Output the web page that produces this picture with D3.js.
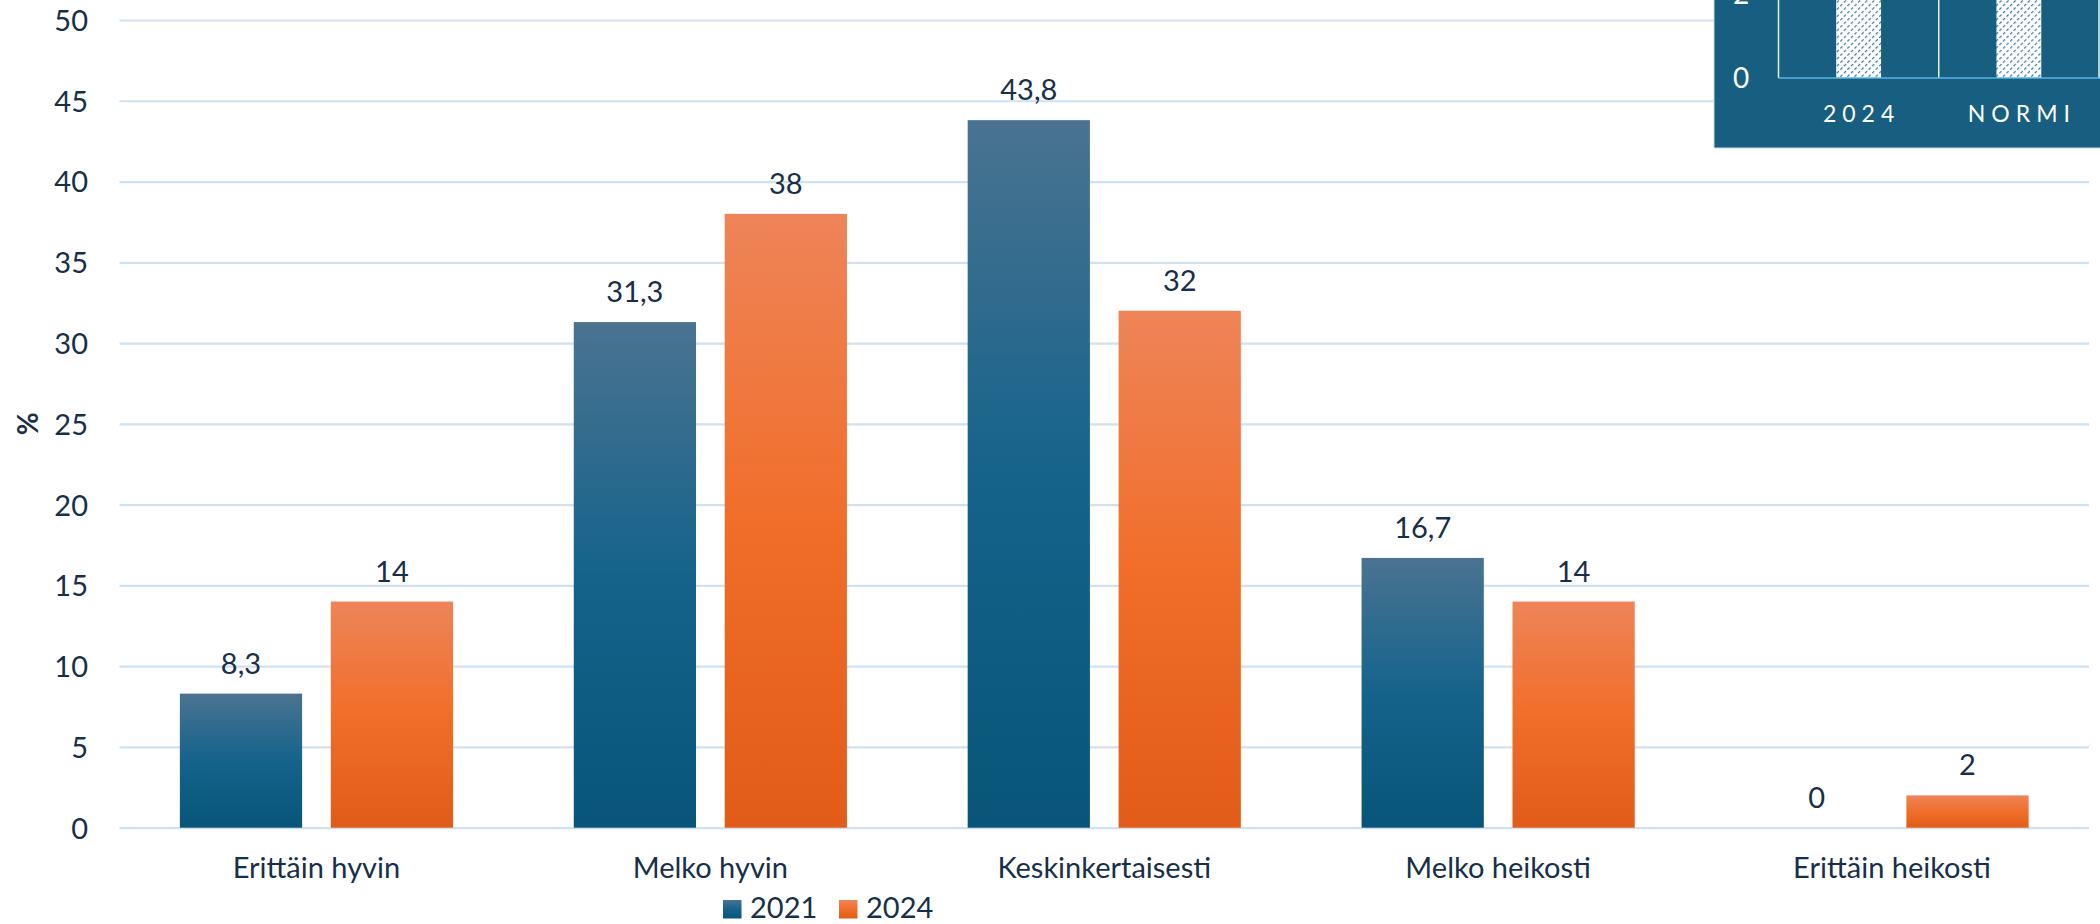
<!DOCTYPE html>
<html>
<head>
<meta charset="utf-8">
<script src="https://cdn.jsdelivr.net/npm/d3@7"></script>
<style>
  html, body { margin: 0; padding: 0; background: #ffffff; }
  svg { display: block; }
  text { font-family: Lato, "Open Sans", sans-serif; }
</style>
</head>
<body>
<svg id="chart" width="2100" height="924"></svg>
<script>
// ---- data ----
const categories = ["Erittäin hyvin", "Melko hyvin", "Keskinkertaisesti", "Melko heikosti", "Erittäin heikosti"];
const seriesNames = ["2021", "2024"];
const values2021 = [8.3, 31.3, 43.8, 16.7, 0];
const values2024 = [14, 38, 32, 14, 2];
const yTicks = [0, 5, 10, 15, 20, 25, 30, 35, 40, 45, 50];
const yLabel = "%";
// fragment of a neighbouring chart visible in the top-right corner
const insetCategories = ["2024", "NORMI"];
const insetValues = [6, 6];
const insetTicks = [0, 2];

const fmt = v => String(v).replace(".", ",");

const svg = d3.select("#chart");
const textColor = "#172f4a";
const gridColor = "#d0e1f2";
const FS = 29;

// gradients
const defs = svg.append("defs");
function grad(id, c0, c1, c2) {
  const g = defs.append("linearGradient").attr("id", id)
    .attr("x1", 0).attr("y1", 0).attr("x2", 0).attr("y2", 1);
  g.append("stop").attr("offset", "0%").attr("stop-color", c0);
  g.append("stop").attr("offset", "50%").attr("stop-color", c1);
  g.append("stop").attr("offset", "100%").attr("stop-color", c2);
}
grad("g2021", "#4a7391", "#15638b", "#085579");
grad("g2024", "#ee8458", "#f16e2a", "#e05c18");
const pat = defs.append("pattern").attr("id", "hatch")
  .attr("patternUnits", "userSpaceOnUse").attr("width", 5).attr("height", 5)
  .attr("patternTransform", "rotate(45)");
pat.append("rect").attr("width", 5).attr("height", 5).attr("fill", "#ffffff");
pat.append("line").attr("x1", 0).attr("y1", 0).attr("x2", 0).attr("y2", 5)
  .attr("stroke", "#3a7ba0").attr("stroke-width", 2.4).attr("stroke-dasharray", "3,2");

const colors = { "2021": "url(#g2021)", "2024": "url(#g2024)" };

// scales
const x0 = d3.scaleBand().domain(categories).range([119.5, 2089]).paddingInner(0).paddingOuter(0);
const x1 = d3.scaleBand().domain(seriesNames).range([0, x0.bandwidth()]).paddingInner(0.19).paddingOuter(0.4);
const y = d3.scaleLinear().domain([0, 50]).range([827.7, 20]);

// gridlines
const gridAxis = d3.axisLeft(y).tickValues(yTicks).tickSize(-(2089 - 119.5)).tickFormat("");
const gG = svg.append("g").attr("transform", "translate(119.5,0)").call(gridAxis);
gG.select(".domain").remove();
gG.selectAll(".tick line").attr("stroke", gridColor).attr("stroke-width", 2.2);

// y tick labels
const yAxis = d3.axisLeft(y).tickValues(yTicks).tickSize(0).tickPadding(0);
const yG = svg.append("g").attr("transform", "translate(88,0)").call(yAxis);
yG.select(".domain").remove();
yG.selectAll(".tick text").attr("font-size", FS).attr("fill", textColor)
  .attr("font-family", "Lato").attr("dy", "0.36em");

// y axis title
svg.append("text").attr("transform", `translate(38,${y(25)}) rotate(-90)`)
  .attr("text-anchor", "middle").attr("font-size", 28).attr("font-weight", "bold")
  .attr("fill", textColor).text(yLabel);

// bars
const rows = categories.map((c, i) => ({ cat: c, vals: [
  { s: "2021", v: values2021[i] }, { s: "2024", v: values2024[i] }] }));

const groups = svg.append("g").selectAll("g").data(rows).join("g")
  .attr("transform", d => `translate(${x0(d.cat)},0)`);
groups.selectAll("rect").data(d => d.vals.filter(e => e.v > 0)).join("rect")
  .attr("x", d => x1(d.s)).attr("width", x1.bandwidth())
  .attr("y", d => y(d.v)).attr("height", d => y(0) - y(d.v))
  .attr("fill", d => colors[d.s]);
groups.selectAll("text").data(d => d.vals).join("text")
  .attr("x", d => x1(d.s) + x1.bandwidth() / 2)
  .attr("y", d => y(d.v) - 20)
  .attr("text-anchor", "middle").attr("font-size", FS).attr("fill", textColor)
  .text(d => fmt(d.v));

// category axis labels
const xAxis = d3.axisBottom(x0).tickSize(0).tickPadding(0);
const xG = svg.append("g").attr("transform", "translate(0,878)").call(xAxis);
xG.select(".domain").remove();
xG.selectAll(".tick text").attr("font-size", FS).attr("fill", textColor)
  .attr("font-family", "Lato").attr("dy", 0).attr("y", 0);

// legend
const legendX = d3.scaleOrdinal().domain(seriesNames).range([723, 839]);
const lg = svg.append("g").selectAll("g").data(seriesNames).join("g")
  .attr("transform", d => `translate(${legendX(d)},900)`);
lg.append("rect").attr("width", 18.5).attr("height", 18.5).attr("fill", d => colors[d]);
lg.append("text").attr("x", 27).attr("y", 18).attr("font-size", FS).attr("fill", textColor).text(d => d);

// ---- inset fragment (top-right) ----
const inset = svg.append("g");
inset.append("rect").attr("x", 1714).attr("y", -2).attr("width", 390).attr("height", 150)
  .attr("fill", "#175e80").attr("stroke", "#c9d8e3").attr("stroke-width", 1);
const ix = d3.scaleBand().domain(insetCategories).range([1778.5, 2099]).padding(0);
const iy = d3.scaleLinear().domain([0, 2]).range([78, -6]);
inset.selectAll("rect.ib").data(insetCategories).join("rect").attr("class", "ib")
  .attr("x", d => ix(d) + ix.bandwidth() * 0.36).attr("width", ix.bandwidth() * 0.28)
  .attr("y", (d, i) => iy(insetValues[i])).attr("height", (d, i) => iy(0) - iy(insetValues[i]))
  .attr("fill", "url(#hatch)");
inset.selectAll("line.sep").data(insetCategories.concat(["end"])).join("line").attr("class", "sep")
  .attr("x1", (d, i) => 1778.5 + i * ix.step()).attr("x2", (d, i) => 1778.5 + i * ix.step())
  .attr("y1", iy(insetValues[0])).attr("y2", iy(0))
  .attr("stroke", "#e8f0f5").attr("stroke-width", 1.5);
inset.append("line").attr("x1", 1778.5).attr("x2", 2100).attr("y1", iy(0)).attr("y2", iy(0))
  .attr("stroke", "#5ab4e4").attr("stroke-width", 1.5);
inset.selectAll("text.it").data(insetTicks).join("text").attr("class", "it")
  .attr("x", 1741).attr("y", d => iy(d)).attr("dy", "0.36em").attr("text-anchor", "middle")
  .attr("font-size", 28).attr("fill", "#ffffff").text(d => d);
inset.selectAll("text.ic").data(insetCategories).join("text").attr("class", "ic")
  .attr("x", d => ix(d) + ix.bandwidth() / 2 + 3).attr("y", 121.5).attr("text-anchor", "middle")
  .attr("font-size", 23).attr("letter-spacing", 6).attr("fill", "#ffffff").text(d => d);
</script>
</body>
</html>
